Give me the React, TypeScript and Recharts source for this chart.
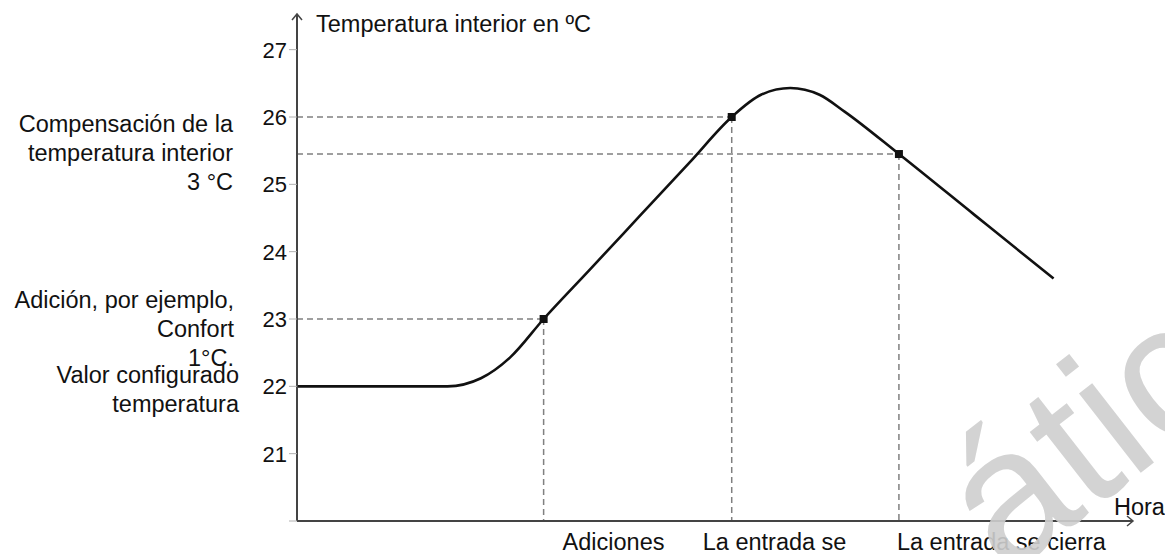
import React from 'react';
import { ComposedChart, Line, Scatter, XAxis, YAxis, ReferenceLine, ReferenceDot } from 'recharts';

// indoor temperature over time (time in arbitrary units, 0..100)
const curveTimes = [0, 18, 22, 25.5, 29.5, 35, 41, 47, 52, 55.5, 59, 62.5, 65.5, 72, 81, 90.5];
const curveTemps = [22, 22, 22.12, 22.43, 23, 23.73, 24.53, 25.33, 26, 26.33, 26.43, 26.33, 26.08, 25.45, 24.55, 23.6];

// switching events marked on the curve
const eventTimes = [29.5, 52, 72];
const eventTemps = [23, 26, 25.45];
const eventLabels = ['Adiciones', 'La entrada se', 'La entrada se cierra'];

const yTicks = [20, 21, 22, 23, 24, 25, 26, 27];

// explanatory notes left of the axis, one block per level
const noteLevels = [25.45, 23, 22];
const noteTexts = [
  ['Compensación de la', 'temperatura interior', '3 °C'],
  ['Adición, por ejemplo,', 'Confort', '1°C.'],
  ['Valor configurado', 'temperatura'],
];

// layout tweaks (px)
const eventLabelDx = [19, -29, -2];
const noteRight = [64, 63, 58];
const noteFirstBaseline = [-22, -11, -3];

const FONT = '"Liberation Sans", Arial, sans-serif';
const AXIS = '#444';
const GUIDE = '#808080';

const curve = curveTimes.map((t, i) => ({ t, temp: curveTemps[i] }));
const events = eventTimes.map((t, i) => ({ t, temp: eventTemps[i] }));

const YTick = ({ x, y, payload }: any) => {
  if (payload.value === 20) return <g />;
  return (
    <text x={x} y={y} dy={8} textAnchor="end" fontSize={22} fill="#111" fontFamily={FONT}>
      {payload.value}
    </text>
  );
};

const XTick = ({ x, y, payload }: any) => {
  const i = eventTimes.indexOf(payload.value);
  return (
    <text x={x + eventLabelDx[i]} y={y} dy={29} textAnchor="start" fontSize={23.5} fill="#111" fontFamily={FONT}>
      {eventLabels[i]}
    </text>
  );
};

const Square = ({ cx, cy }: any) => <rect x={cx - 4} y={cy - 4} width={8} height={8} fill="#111" />;

const YArrow = ({ cx, cy }: any) => (
  <g>
    <path d={`M${cx},${cy} V${cy - 2} M${cx - 5},${cy + 4} L${cx},${cy - 2} L${cx + 5},${cy + 4}`} stroke={AXIS} strokeWidth={1.5} fill="none" />
    <text x={cx + 19} y={cy + 16} fontSize={23.5} fill="#111" fontFamily={FONT}>Temperatura interior en ºC</text>
  </g>
);

const XArrow = ({ cx, cy }: any) => (
  <g>
    <path d={`M${cx - 6},${cy - 5} L${cx},${cy} L${cx - 6},${cy + 5}`} stroke={AXIS} strokeWidth={1.5} fill="none" />
    <text x={cx - 19} y={cy - 6} fontSize={23.5} fill="#111" fontFamily={FONT}>Hora</text>
  </g>
);

const Note = (i: number) => ({ cx, cy }: any) => (
  <text x={cx - noteRight[i]} y={cy + noteFirstBaseline[i]} textAnchor="end" fontSize={23.5} fill="#111" fontFamily={FONT}>
    {noteTexts[i].map((line, k) => (
      <tspan key={k} x={cx - noteRight[i]} dy={k === 0 ? 0 : 29}>{line}</tspan>
    ))}
  </text>
);

export default function App() {
  return (
    <div style={{ position: 'absolute', left: 0, top: 0, width: 1165, height: 554, background: '#fff', overflow: 'hidden' }}>
      <ComposedChart width={1165} height={554} margin={{ top: 16, right: 32, bottom: 0, left: 237 }}>
        <XAxis
          dataKey="t"
          type="number"
          domain={[0, 100]}
          ticks={eventTimes}
          interval={0}
          tick={<XTick />}
          tickLine={false}
          tickSize={0}
          tickMargin={0}
          height={33}
          axisLine={{ stroke: AXIS, strokeWidth: 2 }}
        />
        <YAxis
          type="number"
          domain={[20, 27.5]}
          ticks={yTicks}
          interval={0}
          width={60}
          tick={<YTick />}
          tickSize={8}
          tickMargin={2}
          tickLine={{ stroke: '#b0b0b0', strokeWidth: 1 }}
          axisLine={{ stroke: AXIS, strokeWidth: 2 }}
          allowDataOverflow
        />
        {events.map((e, i) => (
          <ReferenceLine key={`h${i}`} segment={[{ x: 0, y: e.temp }, { x: e.t, y: e.temp }]} stroke={GUIDE} strokeWidth={1.5} strokeDasharray="6 4" />
        ))}
        {events.map((e, i) => (
          <ReferenceLine key={`v${i}`} segment={[{ x: e.t, y: e.temp }, { x: e.t, y: 20 }]} stroke={GUIDE} strokeWidth={1.5} strokeDasharray="6 4" />
        ))}
        <Line data={curve} dataKey="temp" type="monotone" stroke="#111" strokeWidth={2.6} dot={false} isAnimationActive={false} />
        <Scatter data={events} dataKey="temp" shape={<Square />} isAnimationActive={false} />
        <ReferenceDot x={0} y={27.5} shape={<YArrow />} ifOverflow="visible" />
        <ReferenceDot x={100} y={20} shape={<XArrow />} ifOverflow="visible" />
        {noteLevels.map((lv, i) => (
          <ReferenceDot key={`n${i}`} x={0} y={lv} shape={Note(i)} ifOverflow="visible" />
        ))}
      </ComposedChart>
      <svg width={1165} height={554} style={{ position: 'absolute', left: 0, top: 0, pointerEvents: 'none' }}>
        <text
          x={1006}
          y={578}
          transform="rotate(-38 1006 578)"
          fontSize={190}
          fontFamily={FONT}
          fill="#cfcfcf"
          opacity={0.9}
        >
          ático
        </text>
      </svg>
    </div>
  );
}
